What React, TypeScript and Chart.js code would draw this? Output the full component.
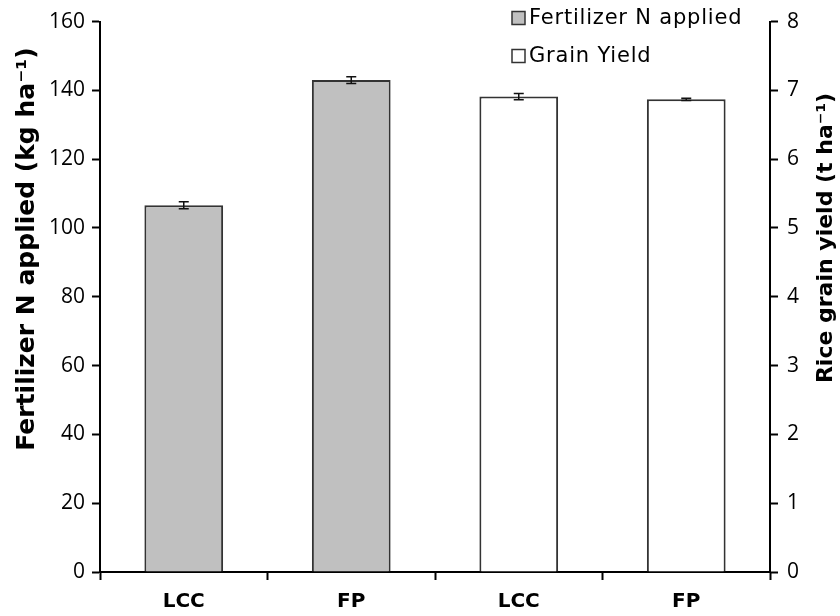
import React, { useEffect, useRef } from "react";
import { Chart, registerables } from "chart.js";

Chart.register(...registerables);

const categories = ["LCC", "FP", "LCC", "FP"];
const nApplied = [106.6, 143.0, null, null];
const nAppliedErr = [1.0, 1.0, null, null];
const grainYield = [null, null, 6.91, 6.87];
const grainYieldErr = [null, null, 0.045, 0.015];
const leftTitle = "Fertilizer N applied (kg ha\u207B\u00B9)";
const rightTitle = "Rice grain yield (t ha\u207B\u00B9)";
const legendLabels = ["Fertilizer N applied", "Grain Yield"];

const numFont = "'Open Sans', sans-serif";
const boldFont = "'DejaVu Sans', sans-serif";

const errorBarPlugin = {
  id: "errorBars",
  afterDatasetsDraw(chart: any) {
    const ctx = chart.ctx;
    chart.data.datasets.forEach((ds: any, i: number) => {
      const meta = chart.getDatasetMeta(i);
      const scale = chart.scales[ds.yAxisID];
      meta.data.forEach((bar: any, j: number) => {
        const v = ds.data[j];
        const e = ds.errors[j];
        if (v == null || e == null) return;
        const yT = scale.getPixelForValue(v + e);
        const yB = scale.getPixelForValue(v - e);
        const x = bar.x;
        ctx.save();
        ctx.strokeStyle = "#111";
        ctx.lineWidth = 1.5;
        ctx.beginPath();
        ctx.moveTo(x, yT);
        ctx.lineTo(x, yB);
        ctx.moveTo(x - 5, yT);
        ctx.lineTo(x + 5, yT);
        ctx.moveTo(x - 5, yB);
        ctx.lineTo(x + 5, yB);
        ctx.stroke();
        ctx.restore();
      });
    });
  },
};

const decorPlugin = {
  id: "decor",
  afterDraw(chart: any) {
    const ctx = chart.ctx;
    ctx.save();
    // legend
    const fills = ["#c0c0c0", "#ffffff"];
    const ys = [18, 56];
    ctx.font = `21px ${boldFont}`;
    (ctx as any).letterSpacing = "0.8px";
    ctx.textBaseline = "middle";
    ctx.textAlign = "left";
    legendLabels.forEach((t, i) => {
      ctx.fillStyle = fills[i];
      ctx.fillRect(512, ys[i] - 6.5, 13, 13);
      ctx.strokeStyle = "#333";
      ctx.lineWidth = 1.5;
      ctx.strokeRect(512, ys[i] - 6.5, 13, 13);
      ctx.fillStyle = "#000";
      ctx.fillText(t, 529, ys[i] + 1);
    });
    (ctx as any).letterSpacing = "0px";
    // axis titles
    ctx.textAlign = "center";
    ctx.fillStyle = "#000";
    ctx.save();
    ctx.font = `bold 25px ${boldFont}`;
    ctx.translate(27, 249);
    ctx.rotate(-Math.PI / 2);
    ctx.fillText(leftTitle, 0, 0);
    ctx.restore();
    ctx.save();
    ctx.font = `bold 22px ${boldFont}`;
    ctx.translate(826, 238);
    ctx.rotate(-Math.PI / 2);
    ctx.fillText(rightTitle, 0, 0);
    ctx.restore();
    ctx.restore();
  },
};

export default function App() {
  const ref = useRef<HTMLCanvasElement>(null);
  useEffect(() => {
    document.body.style.margin = "0";
    const axisGrid = {
      display: true,
      drawOnChartArea: false,
      drawTicks: true,
      tickLength: 8,
      tickColor: "#000",
      tickWidth: 2,
    };
    const chart = new Chart(ref.current!, {
      type: "bar",
      data: {
        labels: categories,
        datasets: [
          {
            label: legendLabels[0],
            data: nApplied,
            errors: nAppliedErr,
            yAxisID: "y",
            backgroundColor: "#c0c0c0",
            borderColor: "#333",
            borderWidth: 2,
            grouped: false,
            barPercentage: 0.47,
            categoryPercentage: 1,
          } as any,
          {
            label: legendLabels[1],
            data: grainYield,
            errors: grainYieldErr,
            yAxisID: "y1",
            backgroundColor: "#ffffff",
            borderColor: "#333",
            borderWidth: 2,
            grouped: false,
            barPercentage: 0.47,
            categoryPercentage: 1,
          } as any,
        ],
      },
      options: {
        responsive: false,
        animation: false,
        layout: { padding: { top: 20, left: 0, right: 0, bottom: 0 } },
        plugins: { legend: { display: false }, tooltip: { enabled: false } },
        scales: {
          x: {
            grid: { ...axisGrid, offset: true },
            border: { color: "#000", width: 2 },
            ticks: { color: "#000", font: { family: boldFont, size: 20, weight: "bold" }, padding: 10 },
            afterFit: (s: any) => { s.height = 44; },
          },
          y: {
            position: "left",
            min: 0,
            max: 160,
            grid: axisGrid,
            border: { color: "#000", width: 2 },
            ticks: { stepSize: 20, color: "#000", font: { family: numFont, size: 21 }, padding: 7 },
            afterFit: (s: any) => { s.width = 100; },
          },
          y1: {
            position: "right",
            min: 0,
            max: 8,
            grid: axisGrid,
            border: { color: "#000", width: 2 },
            ticks: { stepSize: 1, color: "#000", font: { family: numFont, size: 21 }, padding: 9 },
            afterFit: (s: any) => { s.width = 70; },
          },
        },
      } as any,
      plugins: [errorBarPlugin, decorPlugin],
    });
    return () => chart.destroy();
  }, []);
  return <canvas ref={ref} width={840} height={616} />;
}
